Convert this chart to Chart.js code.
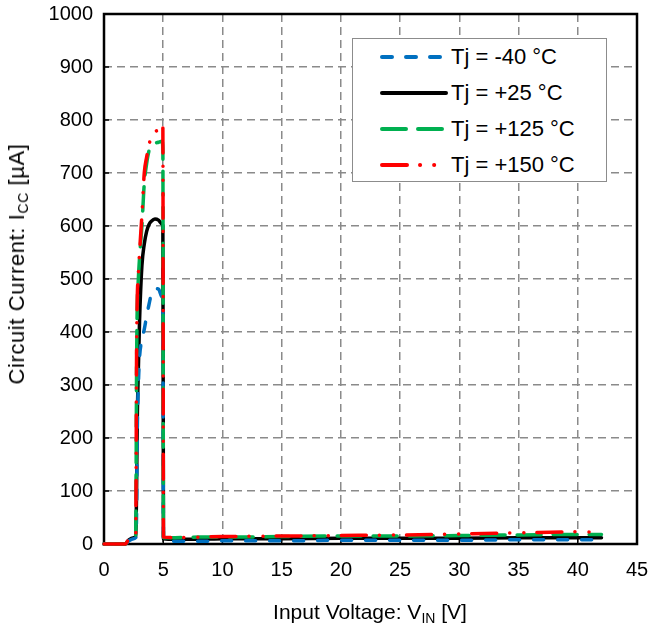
<!DOCTYPE html>
<html><head><meta charset="utf-8">
<script src="https://cdn.jsdelivr.net/npm/chart.js@4"></script>
<style>
html,body{margin:0;padding:0;background:#fff;}
#wrap{position:relative;width:648px;height:632px;font-family:'Liberation Sans',Arial,sans-serif;color:#000;overflow:hidden;}
canvas{position:absolute;left:0;top:0;}
.ytitle{position:absolute;left:17px;top:264px;transform:translate(-50%,-50%) rotate(-90deg);white-space:nowrap;font-size:22px;line-height:22px;letter-spacing:0.6px;}
.xtitle{position:absolute;left:370px;top:611px;transform:translate(-50%,-50%);white-space:nowrap;font-size:21px;line-height:21px;}
sub{font-size:14px;vertical-align:-4px;line-height:0;}
#legend{position:absolute;left:352px;top:38px;width:253px;height:142px;border:1.5px solid #8c8c8c;background:#fff;}
.row{position:absolute;left:26px;height:30px;display:flex;align-items:center;font-size:22px;white-space:nowrap;}
.row svg{margin-right:2px;}
</style></head>
<body>
<div id="wrap">
<canvas id="c" width="648" height="632"></canvas>
<div class="ytitle">Circuit Current: I<sub>CC</sub> [µA]</div>
<div class="xtitle">Input Voltage: V<sub>IN</sub> [V]</div>
<div id="legend"></div>
</div>
<script>
// Input voltage [V]
const voltage = [0, 1.8, 2.1, 2.5, 2.68, 2.75, 2.8, 2.9, 3.0, 3.2, 3.4, 3.6, 3.8, 4.0, 4.3, 4.6, 4.9, 4.97, 5.02, 6, 8, 10, 15, 20, 25, 30, 35, 40, 42];
// Circuit current [µA]
const iccM40  = [0, 0, 6, 10, 12, 60, 200, 300, 352, 385, 405, 430, 452, 472, 482, 481, 466, 460, 6, 5, 5, 6, 6, 7, 7, 7, 8, 8, 8];
const iccP25  = [0, 0, 8, 12, 14, 100, 220, 330, 420, 525, 566, 590, 603, 609, 613, 611, 604, 600, 10, 9, 9, 10, 10, 11, 11, 11, 12, 12, 12];
const iccP125 = [0, 0, 10, 14, 18, 330, 440, 500, 540, 600, 680, 718, 742, 750, 756, 758, 760, 745, 12, 12, 13, 13, 14, 15, 15, 16, 17, 18, 18];
const iccP150 = [0, 0, 10, 15, 18, 360, 455, 510, 550, 620, 700, 730, 752, 772, 778, 782, 792, 785, 13, 12, 13, 14, 15, 16, 17, 19, 21, 23, 22];
const seriesLabels = ['Tj = -40 °C', 'Tj = +25 °C', 'Tj = +125 °C', 'Tj = +150 °C'];
const xTicks = [0, 5, 10, 15, 20, 25, 30, 35, 40, 45];
const yTicks = [0, 100, 200, 300, 400, 500, 600, 700, 800, 900, 1000];

const styles = [
  {color:'#0070C0', dash:[10,14], width:3.5, cap:'round', order:3},
  {color:'#000000', dash:[], width:3.5, cap:'round', order:4},
  {color:'#00B050', dash:[24,12], width:3.5, cap:'round', order:2},
  {color:'#FF0000', dash:[25,13,0.1,14,0.1,13], width:3.5, cap:'round', order:1}
];
const values = [iccM40, iccP25, iccP125, iccP150];

const datasets = values.map((arr, k) => ({
  label: seriesLabels[k],
  data: voltage.map((v, i) => ({x: v, y: arr[i]})),
  borderColor: styles[k].color,
  borderWidth: styles[k].width,
  borderDash: styles[k].dash,
  borderCapStyle: styles[k].cap,
  borderJoinStyle: 'round',
  pointRadius: 0,
  fill: false,
  cubicInterpolationMode: 'monotone',
  order: styles[k].order,
  clip: 5
}));

// HTML legend
const leg = document.getElementById('legend');
const rowTops = [3, 39, 75, 111];
seriesLabels.forEach((lab, k) => {
  const r = document.createElement('div');
  r.className = 'row';
  r.style.top = rowTops[k] + 'px';
  const s = styles[k];
  r.innerHTML = `<svg width="70" height="10"><line x1="3" y1="5" x2="67" y2="5" stroke="${s.color}" stroke-width="4" stroke-linecap="round" stroke-dasharray="${s.dash.length ? s.dash.join(' ') : 'none'}"/></svg><span>${lab}</span>`;
  leg.appendChild(r);
});

const gridColor = '#8a8a8a';
const framePlugin = {
  id: 'frame',
  beforeDatasetsDraw(chart) {
    const {ctx, chartArea: a, scales} = chart;
    ctx.save();
    ctx.strokeStyle = '#000';
    ctx.lineWidth = 1.5;
    xTicks.forEach(t => {
      const x = scales.x.getPixelForValue(t);
      ctx.beginPath(); ctx.moveTo(x, a.bottom); ctx.lineTo(x, a.bottom - 5); ctx.stroke();
    });
    yTicks.forEach(t => {
      const y = scales.y.getPixelForValue(t);
      ctx.beginPath(); ctx.moveTo(a.left, y); ctx.lineTo(a.left + 5, y); ctx.stroke();
    });
    ctx.lineWidth = 2.5;
    ctx.strokeRect(a.left, a.top, a.right - a.left, a.bottom - a.top);
    ctx.restore();
  }
};

const tickFont = {family: "'Liberation Sans', Arial, sans-serif", size: 20};

new Chart(document.getElementById('c'), {
  type: 'line',
  data: {datasets},
  options: {
    responsive: false,
    animation: false,
    layout: {padding: {top: 14, right: 11, left: 0, bottom: 0}},
    plugins: {legend: {display: false}, tooltip: {enabled: false}},
    scales: {
      x: {
        type: 'linear', min: 0, max: 45,
        afterBuildTicks: s => { s.ticks = xTicks.map(v => ({value: v})); },
        afterFit: s => { s.height = 88; s.paddingLeft = 0; s.paddingRight = 0; },
        ticks: {font: tickFont, color: '#000', padding: 14, maxRotation: 0, callback: v => String(v)},
        grid: {drawTicks: false, lineWidth: 1.5,
          color: c => (c.tick && (c.tick.value === 0 || c.tick.value === 45)) ? 'rgba(0,0,0,0)' : gridColor},
        border: {display: false, dash: [8, 5]}
      },
      y: {
        type: 'linear', min: 0, max: 1000,
        afterBuildTicks: s => { s.ticks = yTicks.map(v => ({value: v})); },
        afterFit: s => { s.width = 104; s.paddingTop = 0; s.paddingBottom = 0; },
        ticks: {font: tickFont, color: '#000', padding: 11, callback: v => String(v)},
        grid: {drawTicks: false, lineWidth: 1.5,
          color: c => (c.tick && (c.tick.value === 0 || c.tick.value === 1000)) ? 'rgba(0,0,0,0)' : gridColor},
        border: {display: false, dash: [8, 5]}
      }
    }
  },
  plugins: [framePlugin]
});
</script>
</body></html>
